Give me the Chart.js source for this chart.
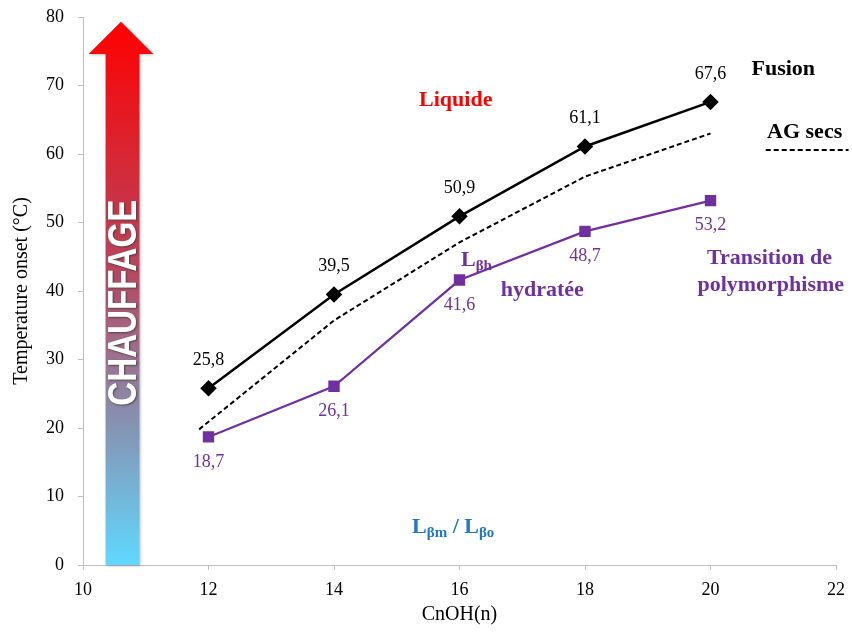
<!DOCTYPE html>
<html>
<head>
<meta charset="utf-8">
<script src="https://cdn.jsdelivr.net/npm/chart.js@4"></script>
<style>
    html, body { margin: 0; padding: 0; background: #fff; }
    .chart-wrap { position: relative; width: 852px; height: 634px; }
</style>
</head>
<body>
<div class="chart-wrap"><canvas id="phaseChart" width="852" height="634"></canvas></div>
<script>
// chain length n of CnOH
const chainLengths = [12, 14, 16, 18, 20];
const fusionTemps = [25.8, 39.5, 50.9, 61.1, 67.6];
const transitionTemps = [18.7, 26.1, 41.6, 48.7, 53.2];
// dry fatty acids (dashed)
const agSecsX = [11.85, 14, 16, 18, 20];
const agSecsY = [19.8, 35.7, 47.1, 56.7, 63.0];
const xTicks = [10, 12, 14, 16, 18, 20, 22];
const yTicks = [0, 10, 20, 30, 40, 50, 60, 70, 80];

const serif = '"Liberation Serif", "DejaVu Serif", serif';
const purple = '#7030A0';

const fmt = (v) => v.toFixed(1).replace('.', ',');

// value labels: black above the diamonds, purple below the squares
const valueLabels = {
    id: 'valueLabels',
    afterDatasetsDraw(chart) {
        const ctx = chart.ctx;
        ctx.save();
        ctx.font = `18px ${serif}`;
        ctx.textAlign = 'center';
        ctx.textBaseline = 'middle';
        chart.data.datasets.forEach((ds, i) => {
            if (!ds.showValues) return;
            const meta = chart.getDatasetMeta(i);
            ctx.fillStyle = ds.valueColor;
            meta.data.forEach((pt, j) => {
                const off = ds.showValues === 'above' ? -28 : 25;
                ctx.fillText(fmt(ds.data[j].y), pt.x, pt.y + off);
            });
        });
        ctx.restore();
    }
};

function subText(ctx, x, y, parts, color) {
    // parts: [text, size, dy]
    ctx.save();
    ctx.fillStyle = color;
    ctx.textBaseline = 'alphabetic';
    ctx.textAlign = 'left';
    let w = 0;
    parts.forEach(([t, s]) => { ctx.font = `bold ${s}px ${serif}`; w += ctx.measureText(t).width; });
    let cx = x - w / 2;
    parts.forEach(([t, s, dy]) => {
        ctx.font = `bold ${s}px ${serif}`;
        ctx.fillText(t, cx, y + dy);
        cx += ctx.measureText(t).width;
    });
    ctx.restore();
}

// heating arrow and the phase notes
const decorations = {
    id: 'decorations',
    afterDraw(chart) {
        const { ctx, scales: { x, y } } = chart;
        const xl = x.getPixelForValue(10.36), xr = x.getPixelForValue(10.9);
        const hl = x.getPixelForValue(10.09), hr = x.getPixelForValue(11.12);
        const top = y.getPixelForValue(79.3), base = y.getPixelForValue(74.6), bot = y.getPixelForValue(0);

        ctx.save();
        const grad = ctx.createLinearGradient(0, top, 0, bot);
        grad.addColorStop(0, '#ff0000');
        grad.addColorStop(0.45, '#b8455e');
        grad.addColorStop(0.75, '#8595b5');
        grad.addColorStop(1, '#60d8ff');
        ctx.shadowColor = 'rgba(0,0,0,0.25)';
        ctx.shadowBlur = 3;
        ctx.shadowOffsetX = 1;
        ctx.shadowOffsetY = 1;
        ctx.fillStyle = grad;
        ctx.beginPath();
        ctx.moveTo((hl + hr) / 2, top);
        ctx.lineTo(hr, base);
        ctx.lineTo(xr, base);
        ctx.lineTo(xr, bot);
        ctx.lineTo(xl, bot);
        ctx.lineTo(xl, base);
        ctx.lineTo(hl, base);
        ctx.closePath();
        ctx.fill();
        ctx.restore();

        // CHAUFFAGE, squeezed to fit the shaft
        ctx.save();
        ctx.translate((xl + xr) / 2 + 1, y.getPixelForValue(38.3));
        ctx.rotate(-Math.PI / 2);
        ctx.font = 'bold 40px "Liberation Sans", Arial, sans-serif';
        const tw = ctx.measureText('CHAUFFAGE').width;
        ctx.scale(206 / tw, 1);
        ctx.textAlign = 'center';
        ctx.textBaseline = 'middle';
        ctx.shadowColor = 'rgba(60,60,60,0.8)';
        ctx.shadowBlur = 2;
        ctx.shadowOffsetX = 1;
        ctx.shadowOffsetY = 1;
        ctx.fillStyle = '#fff';
        ctx.fillText('CHAUFFAGE', 0, 1);
        ctx.restore();

        const txt = (s, vx, vy, color, size = 22) => {
            ctx.save();
            ctx.font = `bold ${size}px ${serif}`;
            ctx.fillStyle = color;
            ctx.textAlign = 'center';
            ctx.textBaseline = 'middle';
            ctx.fillText(s, x.getPixelForValue(vx), y.getPixelForValue(vy));
            ctx.restore();
        };
        txt('Liquide', 15.94, 67.9, '#ff0000');
        txt('Fusion', 21.16, 72.4, '#000');
        txt('AG secs', 21.5, 63.1, '#000');
        txt('hydratée', 17.32, 40.1, purple);
        txt('Transition de', 20.94, 44.8, purple);
        txt('polymorphisme', 20.96, 40.9, purple);

        subText(ctx, x.getPixelForValue(16.27), y.getPixelForValue(43.6),
            [['L', 22, 0], ['βh', 15, 4]], purple);
        subText(ctx, x.getPixelForValue(15.9), y.getPixelForValue(4.6),
            [['L', 22, 0], ['βm', 15, 4], [' / L', 22, 0], ['βo', 15, 4]], '#1f78c8');

        // dashed key under "AG secs"
        ctx.save();
        ctx.strokeStyle = '#000';
        ctx.lineWidth = 2;
        ctx.setLineDash([5, 3]);
        ctx.beginPath();
        ctx.moveTo(x.getPixelForValue(20.88), y.getPixelForValue(60.6));
        ctx.lineTo(x.getPixelForValue(22.2), y.getPixelForValue(60.6));
        ctx.stroke();
        ctx.restore();
    }
};

new Chart(document.getElementById('phaseChart').getContext('2d'), {
    type: 'scatter',
    data: {
        datasets: [
            {
                label: 'AG secs',
                data: agSecsX.map((v, i) => ({ x: v, y: agSecsY[i] })),
                showLine: true,
                borderColor: '#000',
                borderWidth: 2,
                borderDash: [5, 3],
                pointRadius: 0
            },
            {
                label: 'Transition de polymorphisme',
                data: chainLengths.map((v, i) => ({ x: v, y: transitionTemps[i] })),
                showLine: true,
                borderColor: purple,
                borderWidth: 2.2,
                pointStyle: 'rect',
                pointRadius: 6.5,
                pointBackgroundColor: purple,
                pointBorderColor: purple,
                showValues: 'below',
                valueColor: purple
            },
            {
                label: 'Fusion',
                data: chainLengths.map((v, i) => ({ x: v, y: fusionTemps[i] })),
                showLine: true,
                borderColor: '#000',
                borderWidth: 2.5,
                pointStyle: 'rectRot',
                pointRadius: 6.5,
                pointBackgroundColor: '#000',
                pointBorderColor: '#000',
                showValues: 'above',
                valueColor: '#000'
            }
        ]
    },
    options: {
        responsive: false,
        animation: false,
        layout: { padding: 0 },
        plugins: { legend: { display: false }, tooltip: { enabled: false } },
        scales: {
            x: {
                type: 'linear',
                min: 10,
                max: 22,
                afterBuildTicks: (s) => { s.ticks = xTicks.map((v) => ({ value: v })); },
                afterFit: (s) => { s.height = 69; s.paddingRight = 16; },
                grid: { drawOnChartArea: false, drawTicks: true, tickLength: 5, color: '#bfbfbf' },
                border: { color: '#bfbfbf' },
                ticks: { color: '#000', font: { family: serif, size: 18 }, padding: 9 },
                title: { display: true, text: 'CnOH(n)', color: '#000', font: { family: serif, size: 20 }, padding: { top: 0, bottom: 7 } }
            },
            y: {
                min: 0,
                max: 80,
                afterBuildTicks: (s) => { s.ticks = yTicks.map((v) => ({ value: v })); },
                afterFit: (s) => { s.width = 83; s.paddingTop = 17; s.paddingBottom = 0; },
                grid: { drawOnChartArea: false, tickLength: 5, color: '#bfbfbf' },
                border: { color: '#bfbfbf' },
                ticks: { color: '#000', font: { family: serif, size: 18 }, padding: 14 },
                title: { display: true, text: 'Temperature onset (°C)', color: '#000', font: { family: serif, size: 20 }, padding: { bottom: 0, top: 10 } }
            }
        }
    },
    plugins: [valueLabels, decorations]
});
</script>
</body>
</html>
